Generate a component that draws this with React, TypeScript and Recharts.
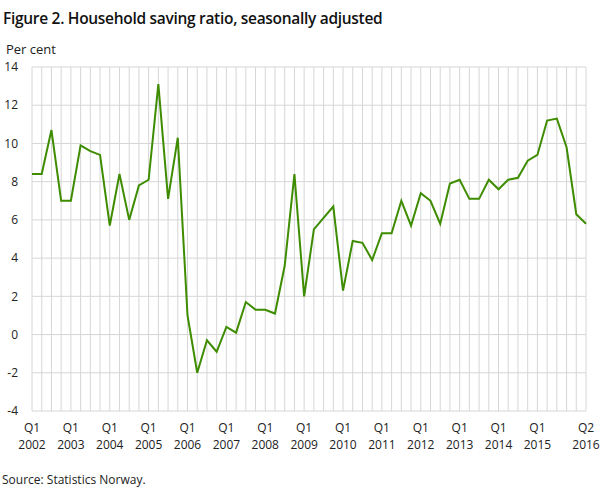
import React from 'react';
import { LineChart, Line, XAxis, YAxis, CartesianGrid } from 'recharts';

const years = [2002, 2003, 2004, 2005, 2006, 2007, 2008, 2009, 2010, 2011, 2012, 2013, 2014, 2015, 2016];
const quarterNames = ['Q1', 'Q2', 'Q3', 'Q4'];

// Household saving ratio, per cent, 2002Q1 – 2016Q2
const savingRatio = [
  8.4, 8.4, 10.7, 7.0,
  7.0, 9.9, 9.6, 9.4,
  5.7, 8.4, 6.0, 7.8,
  8.1, 13.1, 7.1, 10.3,
  1.0, -2.0, -0.3, -0.9,
  0.4, 0.1, 1.7, 1.3,
  1.3, 1.1, 3.6, 8.4,
  2.0, 5.5, 6.1, 6.7,
  2.3, 4.9, 4.8, 3.9,
  5.3, 5.3, 7.0, 5.7,
  7.4, 7.0, 5.8, 7.9,
  8.1, 7.1, 7.1, 8.1,
  7.6, 8.1, 8.2, 9.1,
  9.4, 11.2, 11.3, 9.8,
  6.3, 5.8,
];

const yTicks = [-4, -2, 0, 2, 4, 6, 8, 10, 12, 14];

// Labelled x ticks: Q1 of 2002–2015, and the last quarter (2016 Q2)
const labelledTicks = [
  '2002Q1', '2003Q1', '2004Q1', '2005Q1', '2006Q1', '2007Q1', '2008Q1',
  '2009Q1', '2010Q1', '2011Q1', '2012Q1', '2013Q1', '2014Q1', '2015Q1', '2016Q2',
];

const title = 'Figure 2. Household saving ratio, seasonally adjusted';
const unitLabel = 'Per cent';
const sourceText = 'Source: Statistics Norway.';

const categories = savingRatio.map((v, i) => {
  const year = years[Math.floor(i / 4)];
  const q = quarterNames[i % 4];
  return { i, year, q, key: `${year}${q}`, value: v };
});

const lastIndex = categories.length - 1;
const xTicks = categories.map((c) => c.i);

const FONT = '"Open Sans", "DejaVu Sans", sans-serif';

const XTick = (props: any) => {
  const { x, y, payload } = props;
  const c = categories[payload.value];
  if (!c || !labelledTicks.includes(c.key)) return <g />;
  return (
    <g>
      <text x={x} y={y + 21} textAnchor="middle" fontSize={12} fill="#222" fontFamily={FONT}>
        {c.q}
      </text>
      <text x={x} y={y + 37.5} textAnchor="middle" fontSize={12} fill="#222" fontFamily={FONT}>
        {c.year}
      </text>
    </g>
  );
};

export default function App() {
  return (
    <div
      style={{
        position: 'fixed',
        left: 0,
        top: 0,
        width: 609,
        height: 489,
        background: '#fff',
        fontFamily: FONT,
        color: '#222',
      }}
    >
      <div
        style={{
          position: 'absolute',
          left: 3,
          top: 10,
          fontSize: 15.5,
          lineHeight: '16px',
          fontWeight: 600,
          letterSpacing: -0.3,
          whiteSpace: 'nowrap',
          color: '#111',
        }}
      >
        {title}
      </div>
      <div
        style={{
          position: 'absolute',
          left: 6,
          top: 43,
          fontSize: 13,
          lineHeight: '13px',
          whiteSpace: 'nowrap',
        }}
      >
        {unitLabel}
      </div>
      <div
        style={{
          position: 'absolute',
          left: 2,
          top: 474,
          fontSize: 12,
          lineHeight: '12px',
          whiteSpace: 'nowrap',
        }}
      >
        {sourceText}
      </div>
      <div style={{ position: 'absolute', left: 0, top: 0 }}>
        <LineChart
          width={609}
          height={489}
          data={categories}
          margin={{ top: 67, right: 23, bottom: 48, left: 2 }}
        >
          <CartesianGrid stroke="#d6d6d6" strokeWidth={1} />
          <XAxis
            dataKey="i"
            type="number"
            domain={[0, lastIndex]}
            ticks={xTicks}
            interval={0}
            axisLine={false}
            tickLine={false}
            tickSize={0}
            tickMargin={0}
            height={30}
            tick={<XTick />}
          />
          <YAxis
            type="number"
            domain={[-4, 14]}
            ticks={yTicks}
            interval={0}
            axisLine={false}
            tickLine={false}
            tickSize={0}
            tickMargin={14}
            width={30}
            tick={{ fontSize: 12, fill: '#222', fontFamily: FONT }}
          />
          <Line
            type="linear"
            dataKey="value"
            stroke="#3e8c00"
            strokeWidth={2}
            dot={false}
            isAnimationActive={false}
          />
        </LineChart>
      </div>
    </div>
  );
}
